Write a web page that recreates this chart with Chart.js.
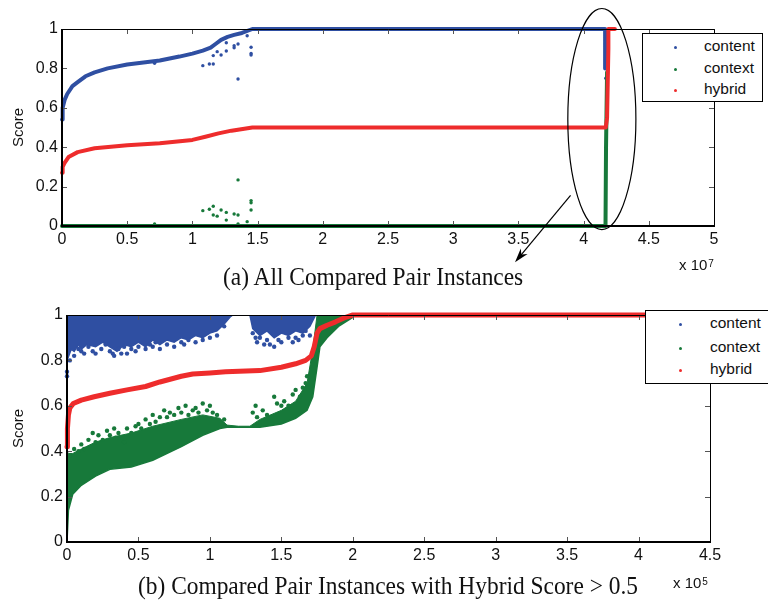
<!DOCTYPE html>
<html>
<head>
<meta charset="utf-8">
<script src="https://cdn.jsdelivr.net/npm/chart.js@4.4.1/dist/chart.umd.min.js"></script>
<style>
body { margin: 0; width: 768px; height: 602px; overflow: hidden; background: #fff; position: relative; font-family: "Liberation Sans", Arial, sans-serif; color: #111; }
canvas { position: absolute; left: 0; }
.caption { position: absolute; font-family: "Liberation Serif", "Times New Roman", serif; font-size: 26px; line-height: 30px; white-space: nowrap; transform: scaleX(0.9); transform-origin: left center; }
.mult { position: absolute; font-size: 15px; line-height: 18px; white-space: nowrap; }
.mult sup { font-size: 10px; position: relative; top: -3px; vertical-align: baseline; margin-left: 1px; }
.legend { position: absolute; border: 1px solid #000; background: #fff; font-size: 15.5px; }
.legend div { position: absolute; white-space: nowrap; line-height: 18px; }
.legend span { position: absolute; width: 3px; height: 3px; border-radius: 50%; }
</style>
</head>
<body>
<canvas id="chartA" width="768" height="300" style="top:0"></canvas>
<canvas id="chartB" width="768" height="302" style="top:300px"></canvas>

<div class="caption" style="left:223px;top:262px">(a) All Compared Pair Instances</div>
<div class="mult" style="left:679px;top:256px">x 10<sup>7</sup></div>
<div class="legend" id="legA" style="left:642px;top:33px;width:119px;height:67px"></div>

<div class="caption" style="left:138px;top:571px">(b) Compared Pair Instances with Hybrid Score &gt; 0.5</div>
<div class="mult" style="left:673px;top:574px">x 10<sup>5</sup></div>
<div class="legend" id="legB" style="left:645px;top:310px;width:140px;height:72px"></div>

<script>
const seriesNames = ['content', 'context', 'hybrid'];
const seriesColors = ['#2f4fa2', '#17793a', '#ee2c2c'];
const yTicks = [0, 0.2, 0.4, 0.6, 0.8, 1];

// (a) all pairs, x in units of 10^7
const aXTicks = [0, 0.5, 1, 1.5, 2, 2.5, 3, 3.5, 4, 4.5, 5];
const aContentX = [0, 0.005, 0.02, 0.04, 0.08, 0.12, 0.18, 0.25, 0.35, 0.5, 0.75, 0.9, 1.0, 1.08, 1.14, 1.18, 1.22, 1.27, 1.32, 1.38, 1.46, 4.165, 4.165];
const aContentY = [0.54, 0.6, 0.64, 0.67, 0.71, 0.73, 0.76, 0.78, 0.8, 0.82, 0.84, 0.86, 0.875, 0.89, 0.905, 0.925, 0.945, 0.96, 0.97, 0.98, 1.0, 1.0, 0.8];
const aContextX = [0, 4.168, 4.172, 4.18];
const aContextY = [0, 0, 0.4, 0.78];
const aHybridX = [0, 0.005, 0.02, 0.05, 0.12, 0.25, 0.5, 0.75, 1.0, 1.1, 1.2, 1.3, 1.46, 4.17, 4.18, 4.19, 4.19, 4.24];
const aHybridY = [0.27, 0.3, 0.32, 0.35, 0.375, 0.395, 0.41, 0.42, 0.437, 0.453, 0.47, 0.484, 0.5, 0.5, 0.55, 0.9, 1.0, 1.0];
const aContentDotsX = [0.71, 1.08, 1.13, 1.16, 1.16, 1.19, 1.22, 1.26, 1.26, 1.32, 1.32, 1.35, 1.35, 1.42, 1.45, 1.45, 1.45, 4.17];
const aContentDotsY = [0.826, 0.814, 0.822, 0.822, 0.865, 0.885, 0.868, 0.888, 0.93, 0.905, 0.915, 0.924, 0.746, 0.966, 0.907, 0.876, 0.868, 0.75];
const aContextDotsX = [0.71, 1.08, 1.13, 1.16, 1.16, 1.19, 1.22, 1.26, 1.26, 1.32, 1.35, 1.35, 1.35, 1.42, 1.45, 1.45, 1.45];
const aContextDotsY = [0.01, 0.078, 0.085, 0.1, 0.056, 0.05, 0.081, 0.069, 0.03, 0.061, 0.056, 0.234, 0.01, 0.022, 0.129, 0.118, 0.081];
// ellipse + arrow marking the zoomed part
const aEllipse = { x: 4.14, y: 0.543, rx: 0.261, ry: 0.561 };
const aArrow = { x0: 3.9, y0: 0.156, x1: 3.474, y1: -0.184 };

// (b) hybrid score > 0.5, x in units of 10^5
const bXTicks = [0, 0.5, 1, 1.5, 2, 2.5, 3, 3.5, 4, 4.5];
const bHybridX = [0, 0.003, 0.01, 0.02, 0.044, 0.1, 0.19, 0.3, 0.42, 0.55, 0.65, 0.8, 0.88, 1.0, 1.11, 1.35, 1.5, 1.6, 1.67, 1.71, 1.73, 1.75, 1.77, 1.82, 1.88, 1.95, 2.0, 4.05];
const bHybridY = [0.42, 0.5, 0.56, 0.59, 0.61, 0.625, 0.64, 0.655, 0.67, 0.685, 0.705, 0.73, 0.74, 0.745, 0.75, 0.755, 0.77, 0.785, 0.8, 0.82, 0.86, 0.92, 0.94, 0.955, 0.97, 0.99, 1.0, 1.0];
const bContentBandX = [0, 0.03, 0.05, 0.08, 0.1, 0.14, 0.2, 0.25, 0.3, 0.35, 0.4, 0.45, 0.5, 0.55, 0.6, 0.65, 0.7, 0.75, 0.8, 0.85, 0.9, 0.95, 1.0, 1.05, 1.1, 1.14, 1.16, 1.28, 1.3, 1.35, 1.4, 1.45, 1.5, 1.55, 1.6, 1.65, 1.7, 1.74];
const bContentBandLow = [0.8, 0.85, 0.84, 0.87, 0.85, 0.87, 0.86, 0.88, 0.86, 0.84, 0.87, 0.86, 0.88, 0.86, 0.89, 0.87, 0.89, 0.88, 0.9, 0.89, 0.91, 0.9, 0.92, 0.93, 0.96, 0.99, 1.0, 1.0, 0.94, 0.91, 0.93, 0.9, 0.92, 0.91, 0.93, 0.92, 0.95, 1.0];
const bContextBandX = [0, 0.01, 0.04, 0.1, 0.2, 0.3, 0.45, 0.6, 0.8, 0.95, 1.07, 1.12, 1.2, 1.28, 1.35, 1.5, 1.6, 1.68, 1.72, 1.75, 1.77, 1.82, 1.9, 2.0];
const bContextBandLow = [0, 0.14, 0.21, 0.25, 0.29, 0.32, 0.33, 0.36, 0.42, 0.47, 0.5, 0.505, 0.505, 0.505, 0.505, 0.52, 0.545, 0.58, 0.64, 0.77, 0.86, 0.9, 0.95, 0.99];
const bContextBandHigh = [0.4, 0.39, 0.39, 0.41, 0.44, 0.46, 0.48, 0.51, 0.54, 0.56, 0.545, 0.515, 0.51, 0.51, 0.54, 0.58, 0.62, 0.7, 0.85, 1.0, 1.0, 1.0, 1.0, 1.0];
const bContentDotsX = [0, 0, 0.02, 0.05, 0.08, 0.1, 0.12, 0.15, 0.18, 0.2, 0.24, 0.27, 0.3, 0.32, 0.33, 0.36, 0.38, 0.4, 0.42, 0.45, 0.48, 0.5, 0.55, 0.58, 0.6, 0.62, 0.65, 0.7, 0.75, 0.8, 0.82, 0.85, 0.9, 0.95, 1.0, 1.05, 1.1, 1.3, 1.32, 1.33, 1.35, 1.38, 1.4, 1.42, 1.45, 1.48, 1.5, 1.55, 1.58, 1.6, 1.62, 1.65, 1.67, 1.7];
const bContentDotsY = [0.73, 0.75, 0.8, 0.82, 0.85, 0.84, 0.83, 0.86, 0.84, 0.83, 0.85, 0.87, 0.84, 0.83, 0.82, 0.85, 0.83, 0.86, 0.83, 0.85, 0.84, 0.86, 0.85, 0.87, 0.86, 0.88, 0.85, 0.87, 0.86, 0.88, 0.87, 0.89, 0.88, 0.89, 0.9, 0.91, 0.95, 0.92, 0.9, 0.88, 0.9, 0.87, 0.89, 0.87, 0.86, 0.89, 0.88, 0.9, 0.88, 0.9, 0.89, 0.91, 0.93, 0.91];
const bContextDotsX = [0.02, 0.05, 0.08, 0.1, 0.12, 0.15, 0.18, 0.2, 0.22, 0.25, 0.28, 0.3, 0.33, 0.34, 0.36, 0.4, 0.42, 0.45, 0.48, 0.5, 0.52, 0.55, 0.58, 0.6, 0.62, 0.65, 0.68, 0.7, 0.72, 0.75, 0.78, 0.8, 0.83, 0.85, 0.88, 0.9, 0.92, 0.95, 0.98, 1.0, 1.02, 1.05, 1.1, 1.3, 1.32, 1.33, 1.37, 1.4, 1.45, 1.47, 1.5, 1.52, 1.55, 1.58, 1.6, 1.63, 1.65, 1.67, 1.68];
const bContextDotsY = [0.38, 0.41, 0.4, 0.43, 0.41, 0.45, 0.48, 0.44, 0.47, 0.45, 0.49, 0.47, 0.5, 0.46, 0.48, 0.44, 0.5, 0.48, 0.51, 0.52, 0.5, 0.54, 0.52, 0.56, 0.53, 0.55, 0.58, 0.55, 0.57, 0.56, 0.59, 0.57, 0.6, 0.56, 0.58, 0.59, 0.57, 0.61, 0.58, 0.6, 0.57, 0.56, 0.54, 0.57, 0.6, 0.55, 0.58, 0.56, 0.64, 0.61, 0.6, 0.62, 0.6, 0.65, 0.67, 0.64, 0.68, 0.7, 0.73];

function pts(xs, ys) {
    return xs.map((x, i) => ({ x: x, y: ys[i] }));
}

function curve(xs, ys, color, width, order) {
    return { data: pts(xs, ys), showLine: true, borderColor: color, borderWidth: width, pointRadius: 0,
             borderCapStyle: 'round', borderJoinStyle: 'round', fill: false, order: order, clip: false };
}

function dots(xs, ys, color, r, order) {
    return { data: pts(xs, ys), showLine: false, pointRadius: r, pointBorderWidth: 0,
             backgroundColor: color, pointBackgroundColor: color, order: order, clip: false };
}

// matlab style box with inward ticks on all four sides
const boxPlugin = {
    id: 'boxPlugin',
    afterDatasetsDraw(chart) {
        const { ctx, chartArea: a, scales } = chart;
        const sx = scales.x, sy = scales.y;
        ctx.save();
        ctx.strokeStyle = '#555';
        ctx.lineWidth = 1;
        ctx.beginPath();
        sx.ticks.forEach(t => {
            const p = Math.round(sx.getPixelForValue(t.value)) + 0.5;
            ctx.moveTo(p, a.bottom); ctx.lineTo(p, a.bottom - 5);
            ctx.moveTo(p, a.top); ctx.lineTo(p, a.top + 5);
        });
        sy.ticks.forEach(t => {
            const p = Math.round(sy.getPixelForValue(t.value)) + 0.5;
            ctx.moveTo(a.left, p); ctx.lineTo(a.left + 5, p);
            ctx.moveTo(a.right, p); ctx.lineTo(a.right - 5, p);
        });
        ctx.stroke();
        ctx.strokeStyle = '#000';
        ctx.beginPath();
        ctx.moveTo(a.left, a.top + 0.5); ctx.lineTo(a.right + 0.5, a.top + 0.5); ctx.lineTo(a.right + 0.5, a.bottom);
        ctx.stroke();
        ctx.lineWidth = 2;
        ctx.beginPath();
        ctx.moveTo(a.left, a.top); ctx.lineTo(a.left, a.bottom); ctx.lineTo(a.right + 1, a.bottom);
        ctx.stroke();
        ctx.restore();
    }
};

const markPlugin = {
    id: 'markPlugin',
    afterDraw(chart) {
        if (chart.canvas.id !== 'chartA') return;
        const { ctx, scales } = chart;
        const sx = scales.x, sy = scales.y;
        const cx = sx.getPixelForValue(aEllipse.x), cy = sy.getPixelForValue(aEllipse.y);
        const rx = sx.getPixelForValue(aEllipse.x + aEllipse.rx) - cx;
        const ry = cy - sy.getPixelForValue(aEllipse.y + aEllipse.ry);
        ctx.save();
        ctx.strokeStyle = '#000';
        ctx.lineWidth = 1.2;
        ctx.beginPath();
        ctx.ellipse(cx, cy, rx, ry, 0, 0, Math.PI * 2);
        ctx.stroke();
        const x0 = sx.getPixelForValue(aArrow.x0), y0 = sy.getPixelForValue(aArrow.y0);
        const x1 = sx.getPixelForValue(aArrow.x1), y1 = sy.getPixelForValue(aArrow.y1);
        const ang = Math.atan2(y1 - y0, x1 - x0);
        ctx.beginPath();
        ctx.moveTo(x0, y0); ctx.lineTo(x1 - 8 * Math.cos(ang), y1 - 8 * Math.sin(ang));
        ctx.stroke();
        ctx.fillStyle = '#000';
        ctx.beginPath();
        ctx.moveTo(x1, y1);
        ctx.lineTo(x1 - 15 * Math.cos(ang - 0.3), y1 - 15 * Math.sin(ang - 0.3));
        ctx.lineTo(x1 - 10 * Math.cos(ang), y1 - 10 * Math.sin(ang));
        ctx.lineTo(x1 - 15 * Math.cos(ang + 0.3), y1 - 15 * Math.sin(ang + 0.3));
        ctx.closePath();
        ctx.fill();
        ctx.restore();
    }
};

function makeChart(id, datasets, xTicks, yWidth, xHeight, padding) {
    const tickFont = { family: '"Liberation Sans", Arial, sans-serif', size: 16 };
    const fmt = v => String(+Number(v).toFixed(2));
    return new Chart(document.getElementById(id), {
        type: 'scatter',
        data: { datasets: datasets },
        options: {
            responsive: false,
            animation: false,
            layout: { padding: padding },
            plugins: { legend: { display: false }, tooltip: { enabled: false } },
            scales: {
                x: {
                    type: 'linear', min: xTicks[0], max: xTicks[xTicks.length - 1],
                    afterBuildTicks: s => { s.ticks = xTicks.map(v => ({ value: v })); },
                    afterFit: s => { s.height = xHeight; },
                    grid: { display: false, drawTicks: false }, border: { display: false },
                    ticks: { font: tickFont, color: '#111', padding: 4, maxRotation: 0, autoSkip: false, callback: fmt }
                },
                y: {
                    type: 'linear', min: yTicks[0], max: yTicks[yTicks.length - 1],
                    afterBuildTicks: s => { s.ticks = yTicks.map(v => ({ value: v })); },
                    afterFit: s => { s.width = yWidth; },
                    grid: { display: false, drawTicks: false }, border: { display: false },
                    ticks: { font: tickFont, color: '#111', padding: 4, autoSkip: false, callback: fmt },
                    title: { display: true, text: 'Score', color: '#111', padding: { top: 10 },
                             font: { family: '"Liberation Sans", Arial, sans-serif', size: 15 } }
                }
            }
        },
        plugins: [boxPlugin, markPlugin]
    });
}

const [blue, green, red] = seriesColors;

makeChart('chartA', [
    dots(aContentDotsX, aContentDotsY, blue, 1.7, 5),
    dots(aContextDotsX, aContextDotsY, green, 1.7, 5),
    curve(aContentX, aContentY, blue, 4, 4),
    curve(aContextX, aContextY, green, 4, 3),
    curve(aHybridX, aHybridY, red, 4, 1)
], aXTicks, 62, 74, { top: 29, right: 54, left: 0, bottom: 0 });

makeChart('chartB', [
    { data: pts(bContentBandX, bContentBandLow), showLine: true, borderColor: blue, borderWidth: 1.5, pointRadius: 0,
      backgroundColor: blue, fill: 'end', order: 8 },
    dots(bContentDotsX, bContentDotsY, blue, 2.2, 7),
    { data: pts(bContextBandX, bContextBandLow), showLine: true, borderColor: green, borderWidth: 1.5, pointRadius: 0,
      fill: false, order: 5 },
    { data: pts(bContextBandX, bContextBandHigh), showLine: true, borderColor: green, borderWidth: 1, pointRadius: 0,
      backgroundColor: green, fill: { target: 2 }, order: 5 },
    dots(bContextDotsX, bContextDotsY, green, 2.2, 4),
    curve(bHybridX, bHybridY, red, 5, 1)
], bXTicks, 67, 60, { top: 15, right: 58, left: 0, bottom: 0 });

// legends, built from the series names
function buildLegend(id, dotX, textX, rowYs) {
    const box = document.getElementById(id);
    seriesNames.forEach((name, i) => {
        const dot = document.createElement('span');
        dot.style.left = (dotX - 1.5) + 'px';
        dot.style.top = (rowYs[i] - 1.5) + 'px';
        dot.style.background = seriesColors[i];
        box.appendChild(dot);
        const label = document.createElement('div');
        label.textContent = name;
        label.style.left = textX + 'px';
        label.style.top = (rowYs[i] - 10) + 'px';
        box.appendChild(label);
    });
}
buildLegend('legA', 32, 61, [13, 35, 56]);
buildLegend('legB', 34, 64, [13, 37, 59]);
</script>
</body>
</html>
